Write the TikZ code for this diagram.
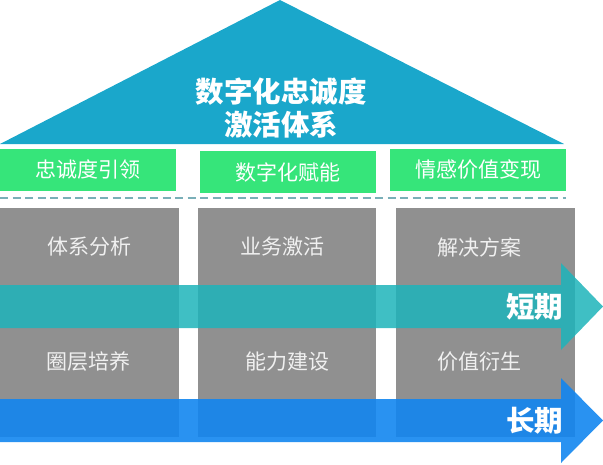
\documentclass[tikz,border=0pt]{standalone}
\usepackage{fontspec}
\usepackage{tikz}
\usetikzlibrary{positioning}
\newfontfamily\cjk{Noto Sans CJK SC}
\definecolor{roofblue}{RGB}{26,167,203}
\definecolor{leafgreen}{RGB}{54,229,122}
\definecolor{pillargray}{RGB}{144,144,144}
\definecolor{dashteal}{RGB}{122,175,184}
\definecolor{shortteal}{RGB}{31,180,186}
\definecolor{longblue}{RGB}{18,134,240}

\begin{document}
\begin{tikzpicture}[x=1pt,y=-1pt,
	green box/.style={fill=leafgreen, inner sep=0pt, text=white, font=\cjk\fontsize{21}{25}\selectfont},
	gray box/.style={fill=pillargray, inner sep=0pt, minimum height=229pt},
	pillar text/.style={text=white!94!black, font=\cjk\fontsize{21}{25}\selectfont},
	band label/.style={text=white, font=\cjk\bfseries\fontsize{28.5}{32}\selectfont, anchor=east}]
			\useasboundingbox (0,0) rectangle (603,464);
			% Roof
			\fill[roofblue] (0,144) -- (280,0) -- (564,144) -- cycle;
			\node [text=white, align=center, font=\cjk\bfseries\fontsize{28.5}{33}\selectfont] (title) at (281,108) {数字化忠诚度\\激活体系};
			
			% Nodes
			\node[green box, minimum width=175.5pt, minimum height=42pt] (lead) at (87.75,170) {忠诚度引领};
			\node[green box, minimum width=176.5pt, minimum height=42pt] (digital) at (287.75,172) {数字化赋能};
			\node[green box, minimum width=176pt, minimum height=42pt] (value) at (478,170) {情感价值变现};
			
			\draw[dashteal, line width=1.6pt, dash pattern=on 8pt off 4.5pt] (0,198) -- (566,198);
			
			\node[gray box, minimum width=178.6pt] (col1) at (89.3,322.5) {};
			\node[gray box, minimum width=178.5pt] (col2) at (286.75,322.5) {};
			\node[gray box, minimum width=179.5pt] (col3) at (485.25,322.5) {};
			
			\node[pillar text] (analyse) at (89.5,247) {体系分析};
			\node[pillar text] (activate) at (282,247) {业务激活};
			\node[pillar text] (solution) at (479,247) {解决方案};
			\node[pillar text] (circle) at (88,362) {圈层培养};
			\node[pillar text] (ability) at (287,362) {能力建设};
			\node[pillar text] (derive) at (479,362) {价值衍生};
			
			% Arrows
			\fill[shortteal, fill opacity=0.86] (0,285) -- (561,285) -- (561,263) -- (603,306.5) -- (561,350) -- (561,328) -- (0,328) -- cycle;
			\node[band label] (short) at (567,306.5) {短期};
			
			\fill[longblue, fill opacity=0.9] (0,399) -- (561,399) -- (561,378) -- (603,420.5) -- (561,463) -- (561,442) -- (0,442) -- cycle;
			\node[band label] (long) at (567,420.5) {长期};
			
		\end{tikzpicture}
\end{document}
